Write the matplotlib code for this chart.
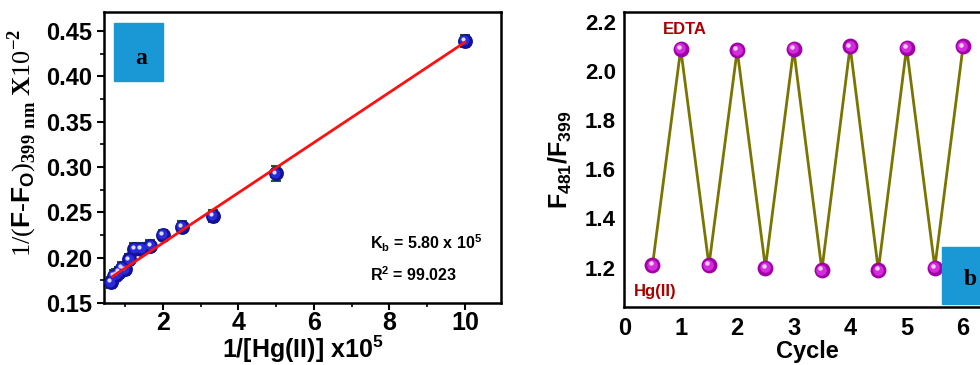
import numpy as np
import matplotlib
matplotlib.use("Agg")
import matplotlib.pyplot as plt
from matplotlib.transforms import offset_copy
from matplotlib.ticker import MultipleLocator, AutoMinorLocator, FormatStrFormatter

plt.rcParams['font.family'] = ['Liberation Sans', 'DejaVu Sans']
plt.rcParams['font.weight'] = 'bold'
plt.rcParams['axes.labelweight'] = 'bold'
plt.rcParams['mathtext.fontset'] = 'custom'
plt.rcParams['mathtext.rm'] = 'Liberation Serif'
plt.rcParams['mathtext.bf'] = 'Liberation Serif:bold'
plt.rcParams['mathtext.sf'] = 'Liberation Sans:bold'

# (a) Benesi-Hildebrand data
inv_hg = [10.0, 5.0, 3.33, 2.5, 2.0, 1.67, 1.43, 1.25, 1.11, 1.0, 0.91, 0.83, 0.77, 0.71, 0.63]
inv_df = [0.439, 0.293, 0.246, 0.234, 0.225, 0.213, 0.210, 0.210, 0.198, 0.187, 0.189, 0.184, 0.181, 0.180, 0.173]
inv_df_err = [0.007, 0.008, 0.007, 0.006, 0.006, 0.006, 0.006, 0.006, 0.006, 0.006, 0.006, 0.006, 0.006, 0.006, 0.006]
fit_slope = 0.0277
fit_intercept = 0.1607

# (b) reversibility cycles
cycle = [0.5, 1, 1.5, 2, 2.5, 3, 3.5, 4, 4.5, 5, 5.5, 6]
ratio = [1.21, 2.09, 1.21, 2.085, 1.20, 2.09, 1.19, 2.10, 1.19, 2.095, 1.20, 2.10]


def sphere(ax, x, y, dark, mid, light, size):
    # shaded ball marker: base disc, lighter body, small highlight
    fig = ax.figure
    ax.scatter(x, y, s=size, color=dark, zorder=5, linewidths=0)
    t1 = offset_copy(ax.transData, fig=fig, x=-0.6, y=0.6, units='dots')
    ax.scatter(x, y, s=size * 0.45, color=mid, zorder=6, linewidths=0, transform=t1)
    t2 = offset_copy(ax.transData, fig=fig, x=-1.8, y=1.8, units='dots')
    ax.scatter(x, y, s=size * 0.08, color=light, zorder=7, linewidths=0, transform=t2)


fig = plt.figure(figsize=(9.8, 3.65), dpi=100)

# ---- panel a ----
ax1 = fig.add_axes([0.106, 0.170, 0.405, 0.797])
ax1.errorbar(inv_hg, inv_df, yerr=inv_df_err, fmt='none', ecolor='#1e5e1e',
             elinewidth=1.5, capsize=3.5, capthick=1.5, zorder=3)
sphere(ax1, inv_hg, inv_df, '#10109a', '#2a2ad8', '#d8dcff', 115)
xf = np.array([min(inv_hg) + 0.04, max(inv_hg)])
ax1.plot(xf, fit_intercept + fit_slope * xf, color='#ff1010', lw=2, zorder=8)

ax1.set_xlim(0.44, 10.95)
ax1.set_ylim(0.15, 0.471)
ax1.xaxis.set_major_locator(MultipleLocator(2))
ax1.xaxis.set_minor_locator(AutoMinorLocator(2))
ax1.yaxis.set_major_locator(MultipleLocator(0.05))
ax1.yaxis.set_minor_locator(AutoMinorLocator(2))
ax1.yaxis.set_major_formatter(FormatStrFormatter('%.2f'))
ax1.tick_params(which='major', direction='out', length=5, width=1.5, labelsize=17)
ax1.tick_params(axis='x', which='major', labelsize=18, pad=1)
ax1.tick_params(which='minor', direction='out', length=3, width=1.2)
for sp in ax1.spines.values():
    sp.set_linewidth(1.8)

ax1.set_xlabel(r'1/[Hg(II)] x10$^{\mathsf{5}}$', fontsize=18, labelpad=-1)
ax1.set_ylabel(r'1/($\mathsf{F}$-$\mathsf{F_{O}}$)$_{\mathrm{399\ nm}}$ $\mathbf{X}$10$^{-2}$',
               fontsize=19, family='Liberation Serif', weight='normal')
ax1.yaxis.set_label_coords(-0.163, 0.55)

ax1.add_patch(plt.Rectangle((0.025, 0.763), 0.123, 0.199, transform=ax1.transAxes,
                            color='#1a98d5', zorder=2))
ax1.text(0.093, 0.84, 'a', transform=ax1.transAxes, ha='center', va='center',
         fontsize=17, family='Liberation Serif', weight='bold')
ax1.text(0.67, 0.206, r'K$_{\mathsf{b}}$ = 5.80 x 10$^{\mathsf{5}}$', transform=ax1.transAxes,
         fontsize=11.5, va='center')
ax1.text(0.67, 0.096, r'R$^{\mathsf{2}}$ = 99.023', transform=ax1.transAxes,
         fontsize=11.5, va='center')

# ---- panel b ----
ax2 = fig.add_axes([0.637, 0.159, 0.3745, 0.808])
ax2.plot(cycle, ratio, color='#7a7400', lw=2, zorder=3)
sphere(ax2, cycle, ratio, '#a000a8', '#d42cdc', '#f8d0f8', 130)
ax2.set_xlim(0, 6.5)
ax2.set_ylim(1.04, 2.24)
ax2.xaxis.set_major_locator(MultipleLocator(1))
ax2.yaxis.set_major_locator(MultipleLocator(0.2))
ax2.yaxis.set_major_formatter(FormatStrFormatter('%.1f'))
ax2.tick_params(length=0, labelsize=16, pad=6)
ax2.tick_params(axis='x', labelsize=17, pad=7)
for sp in ax2.spines.values():
    sp.set_linewidth(1.8)
ax2.set_xlabel('Cycle', fontsize=17, labelpad=0)
ax2.set_ylabel(r'F$_{\mathsf{481}}$/F$_{\mathsf{399}}$', fontsize=18, labelpad=8)

ax2.text(0.166, 0.94, 'EDTA', transform=ax2.transAxes, color='#a80000',
         fontsize=12, ha='center', va='center')
ax2.text(0.084, 0.054, 'Hg(II)', transform=ax2.transAxes, color='#a80000',
         fontsize=12, ha='center', va='center')
ax2.add_patch(plt.Rectangle((5.62, 1.052), 1.0, 0.232, color='#1a98d5', zorder=9,
                            clip_on=False))
ax2.text(6.13, 1.15, 'b', fontsize=17, family='Liberation Serif', weight='bold',
         ha='center', va='center', zorder=10)

fig.savefig('out.png', dpi=100)
